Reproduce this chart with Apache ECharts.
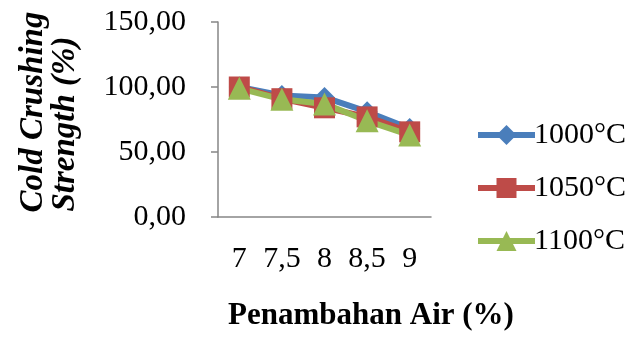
<!DOCTYPE html>
<html>
<head>
<meta charset="utf-8">
<style>
  html, body { margin: 0; padding: 0; background: #ffffff; }
  #chart { width: 630px; height: 338px; }
</style>
<script src="https://cdn.jsdelivr.net/npm/echarts@6/dist/echarts.min.js"></script>
</head>
<body>
<div id="chart"></div>
<script>
// Water addition (%) on the x axis
const categories = ['7', '7,5', '8', '8,5', '9'];
// Cold crushing strength (%) per firing temperature
const s1000 = [100, 93.5, 92, 81, 68];
const s1050 = [100, 91, 84, 77, 65.5];
const s1100 = [99, 90.5, 87, 74, 63];
const seriesNames = ['1000°C', '1050°C', '1100°C'];
const colors = ['#4A7EBB', '#BE4B48', '#98B954'];

const FONT = '"Liberation Serif", "Times New Roman", serif';

const chart = echarts.init(document.getElementById('chart'), null, { renderer: 'canvas' });

function lineSeries(name, data, color, symbol, size) {
  return {
    name: name,
    type: 'line',
    data: data,
    symbol: symbol,
    symbolSize: size,
    showSymbol: true,
    lineStyle: { color: color, width: 6 },
    itemStyle: { color: color },
    emphasis: { disabled: true },
    animation: false
  };
}

chart.setOption({
  animation: false,
  grid: { left: 218, right: 199, top: 22, bottom: 121 },
  xAxis: {
    type: 'category',
    data: categories,
    boundaryGap: true,
    axisLine: { lineStyle: { color: '#868686', width: 1.5 } },
    axisTick: { show: false },
    axisLabel: { color: '#000', fontFamily: FONT, fontSize: 30, margin: 27, interval: 0 },
    splitLine: { show: false }
  },
  yAxis: {
    type: 'value',
    min: 0, max: 150, interval: 50,
    axisLine: { show: true, lineStyle: { color: '#868686', width: 1.5 } },
    axisTick: { show: true, inside: false, length: 7, lineStyle: { color: '#868686', width: 1.5 } },
    axisLabel: {
      color: '#000', fontFamily: FONT, fontSize: 30, margin: 32,
      formatter: v => v.toFixed(2).replace('.', ',')
    },
    splitLine: { show: false }
  },
  legend: {
    orient: 'vertical',
    left: 470,
    top: 115,
    itemWidth: 57,
    itemHeight: 25,
    itemGap: 23,
    lineStyle: { width: 6 },
    textStyle: { color: '#000', fontFamily: FONT, fontSize: 30, padding: [0, 0, 0, -6] },
    data: seriesNames
  },
  series: [
    lineSeries(seriesNames[0], s1000, colors[0], 'diamond', 21),
    lineSeries(seriesNames[1], s1050, colors[1], 'rect', 21),
    lineSeries(seriesNames[2], s1100, colors[2], 'triangle', 23)
  ],
  graphic: [
    {
      type: 'text',
      x: 33, y: 112, rotation: Math.PI / 2,
      style: {
        text: 'Cold Crushing', fill: '#000',
        font: 'italic bold 33px ' + FONT,
        align: 'center', verticalAlign: 'middle'
      }
    },
    {
      type: 'text',
      x: 65, y: 124, rotation: Math.PI / 2,
      style: {
        text: 'Strength (%)', fill: '#000',
        font: 'italic bold 33px ' + FONT,
        align: 'center', verticalAlign: 'middle'
      }
    },
    {
      type: 'text',
      x: 371, y: 316,
      style: {
        text: 'Penambahan Air (%)', fill: '#000',
        font: 'bold 31px ' + FONT,
        align: 'center', verticalAlign: 'middle'
      }
    }
  ]
});
</script>
</body>
</html>
